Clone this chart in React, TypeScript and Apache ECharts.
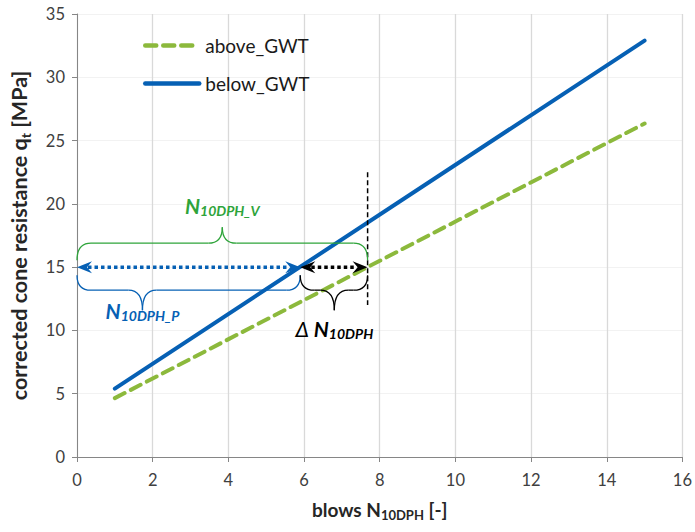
import React, { useEffect, useRef } from "react";
import * as echarts from "echarts";

// ---- data ----
const xEnds = [1, 15];
const aboveGWT = [4.65, 26.35];
const belowGWT = [5.4, 32.9];
const seriesNames = ["above_GWT", "below_GWT"];
const xTicks = [0, 16, 2];
const yTicks = [0, 35, 5];

// annotation values (data units)
const refQ = 15; // reference cone resistance
const nP = 5.9; // N_10DPH_P (below_GWT at q=15)
const nV = 7.68; // N_10DPH_V (above_GWT at q=15)
const vLineRange = [12.0, 22.5];
const bracePointP = 1.73; // x of blue brace point
const bracePointV = 3.84;
const bracePointD = 6.8;

const BLUE = "#0660b4";
const GREEN = "#8cb93c";
const LGREEN = "#2ea43a";
const FONT = "Lato, 'Open Sans', sans-serif";

function brace(x0: number, x1: number, xm: number, yTip: number, yLine: number, yPt: number, color: string) {
  const r = Math.min(14, (x1 - x0) / 4);
  const st = { stroke: color, lineWidth: 1.3, fill: null as any };
  return [
    { type: "bezierCurve", shape: { x1: x0, y1: yTip, cpx1: x0, cpy1: yLine, x2: x0 + r, y2: yLine }, style: st },
    { type: "line", shape: { x1: x0 + r, y1: yLine, x2: xm - r, y2: yLine }, style: st },
    { type: "bezierCurve", shape: { x1: xm - r, y1: yLine, cpx1: xm, cpy1: yLine, x2: xm, y2: yPt }, style: st },
    { type: "bezierCurve", shape: { x1: xm, y1: yPt, cpx1: xm, cpy1: yLine, x2: xm + r, y2: yLine }, style: st },
    { type: "line", shape: { x1: xm + r, y1: yLine, x2: x1 - r, y2: yLine }, style: st },
    { type: "bezierCurve", shape: { x1: x1 - r, y1: yLine, cpx1: x1, cpy1: yLine, x2: x1, y2: yTip }, style: st },
  ];
}

function arrowHead(xt: number, y: number, dir: number, color: string) {
  return {
    type: "polygon",
    shape: {
      points: [
        [xt, y],
        [xt - dir * 15, y - 6],
        [xt - dir * 10, y],
        [xt - dir * 15, y + 6],
      ],
    },
    style: { fill: color },
  };
}

function labelRich(color: string) {
  return {
    N: { fontSize: 21, fontWeight: "bold", fontStyle: "italic", fill: color, color, fontFamily: FONT, lineHeight: 24 },
    s: { fontSize: 14, fontWeight: "bold", fontStyle: "italic", fill: color, color, fontFamily: FONT, lineHeight: 8, verticalAlign: "bottom" },
    d: { fontSize: 21, fontStyle: "italic", fill: color, color, fontFamily: FONT, lineHeight: 24 },
  };
}

export default function App() {
  const ref = useRef<HTMLDivElement>(null);
  useEffect(() => {
    const chart = echarts.init(ref.current!, null, { renderer: "svg" });
    const renderItem = (params: any, api: any) => {
      const p0 = api.coord([0, refQ]);
      const pP = api.coord([nP, refQ]);
      const pV = api.coord([nV, refQ]);
      const vt = api.coord([nV, vLineRange[1]]);
      const vb = api.coord([nV, vLineRange[0]]);
      const y = p0[1];
      const mV = api.coord([bracePointV, refQ])[0];
      const mP = api.coord([bracePointP, refQ])[0];
      const mD = api.coord([bracePointD, refQ])[0];
      const children: any[] = [];
      children.push({
        type: "line",
        shape: { x1: vt[0], y1: vt[1], x2: vb[0], y2: vb[1] },
        style: { stroke: "#000", lineWidth: 1.5, lineDash: [5, 3] },
      });
      children.push(...brace(p0[0], pV[0], mV, y - 7, y - 24, y - 40, LGREEN));
      children.push(...brace(p0[0], pP[0], mP, y + 8, y + 23, y + 43, BLUE));
      children.push(...brace(pP[0], pV[0], mD, y + 8, y + 23, y + 43, "#000"));
      children.push({
        type: "line",
        shape: { x1: p0[0] + 11, y1: y, x2: pP[0] - 11, y2: y },
        style: { stroke: BLUE, lineWidth: 3.5, lineDash: [3.5, 3] },
      });
      children.push(arrowHead(p0[0], y, -1, BLUE));
      children.push(arrowHead(pP[0], y, 1, BLUE));
      children.push({
        type: "line",
        shape: { x1: pP[0] + 11, y1: y, x2: pV[0] - 11, y2: y },
        style: { stroke: "#000", lineWidth: 3.5, lineDash: [3.5, 3] },
      });
      children.push(arrowHead(pP[0], y, -1, "#000"));
      children.push(arrowHead(pV[0], y, 1, "#000"));
      children.push({
        type: "text",
        x: mV,
        y: y - 62,
        style: { text: "{N|N}{s|10DPH_V}", rich: labelRich(LGREEN), align: "center", verticalAlign: "middle" },
      });
      children.push({
        type: "text",
        x: mP,
        y: y + 43,
        style: { text: "{N|N}{s|10DPH_P}", rich: labelRich(BLUE), align: "center", verticalAlign: "middle" },
      });
      children.push({
        type: "text",
        x: mD,
        y: y + 61,
        style: { text: "{d|Δ }{N|N}{s|10DPH}", rich: labelRich("#000"), align: "center", verticalAlign: "middle" },
      });
      return { type: "group", children };
    };

    const nameRich = (size: number, sub: number) => ({
      b: { fontSize: size, fontWeight: "bold", color: "#262626", fontFamily: FONT, lineHeight: size + 4 },
      s: { fontSize: sub, fontWeight: "bold", color: "#262626", fontFamily: FONT, lineHeight: 8, verticalAlign: "bottom" },
    });

    chart.setOption({
      animation: false,
      textStyle: { fontFamily: FONT },
      grid: { left: 77, right: 9, top: 14, bottom: 75 },
      legend: {
        data: seriesNames,
        orient: "vertical",
        left: 138,
        top: 31,
        itemWidth: 54,
        itemHeight: 14,
        itemGap: 19,
        itemStyle: { opacity: 0 },
        lineStyle: { width: 4.5 },
        textStyle: { fontSize: 19, color: "#1a1a1a", fontFamily: FONT, padding: [0, 0, 0, 1] },
      },
      xAxis: {
        type: "value",
        min: xTicks[0],
        max: xTicks[1],
        interval: xTicks[2],
        name: "{b|blows N}{s|10DPH}{b| [-]}",
        nameLocation: "middle",
        nameGap: 41,
        nameTextStyle: { rich: nameRich(19, 13) },
        axisLine: { lineStyle: { color: "#868686", width: 1 } },
        axisTick: { show: true, length: 5, lineStyle: { color: "#868686" } },
        axisLabel: { fontSize: 16.5, color: "#404040", margin: 14, fontFamily: FONT },
        splitLine: { show: true, lineStyle: { color: "#d9d9d9", width: 1.3 } },
      },
      yAxis: {
        type: "value",
        min: yTicks[0],
        max: yTicks[1],
        interval: yTicks[2],
        name: "{b|corrected cone resistance q}{s|t}{b| [MPa]}",
        nameLocation: "middle",
        nameRotate: 90,
        nameGap: 45,
        nameTextStyle: { rich: nameRich(21.5, 14) },
        axisLine: { show: true, lineStyle: { color: "#868686", width: 1 } },
        axisTick: { show: true, length: 5, lineStyle: { color: "#868686" } },
        axisLabel: { fontSize: 16.5, color: "#404040", margin: 12, fontFamily: FONT },
        splitLine: { show: true, lineStyle: { color: "#f2f2f2", width: 1 } },
      },
      series: [
        {
          name: seriesNames[0],
          type: "line",
          data: xEnds.map((x, i) => [x, aboveGWT[i]]),
          symbol: "none",
          lineStyle: { color: GREEN, width: 4, type: [11, 7], cap: "round" },
          itemStyle: { color: GREEN },
          z: 3,
        },
        {
          name: seriesNames[1],
          type: "line",
          data: xEnds.map((x, i) => [x, belowGWT[i]]),
          symbol: "none",
          lineStyle: { color: BLUE, width: 4, cap: "round" },
          itemStyle: { color: BLUE },
          z: 4,
        },
        {
          name: "annotations",
          type: "custom",
          coordinateSystem: "cartesian2d",
          data: [[0, 0]],
          renderItem,
          clip: false,
          silent: true,
          z: 5,
        },
      ],
    });
    return () => chart.dispose();
  }, []);
  return <div ref={ref} style={{ width: 695, height: 532, position: "absolute", left: 0, top: 0 }} />;
}
